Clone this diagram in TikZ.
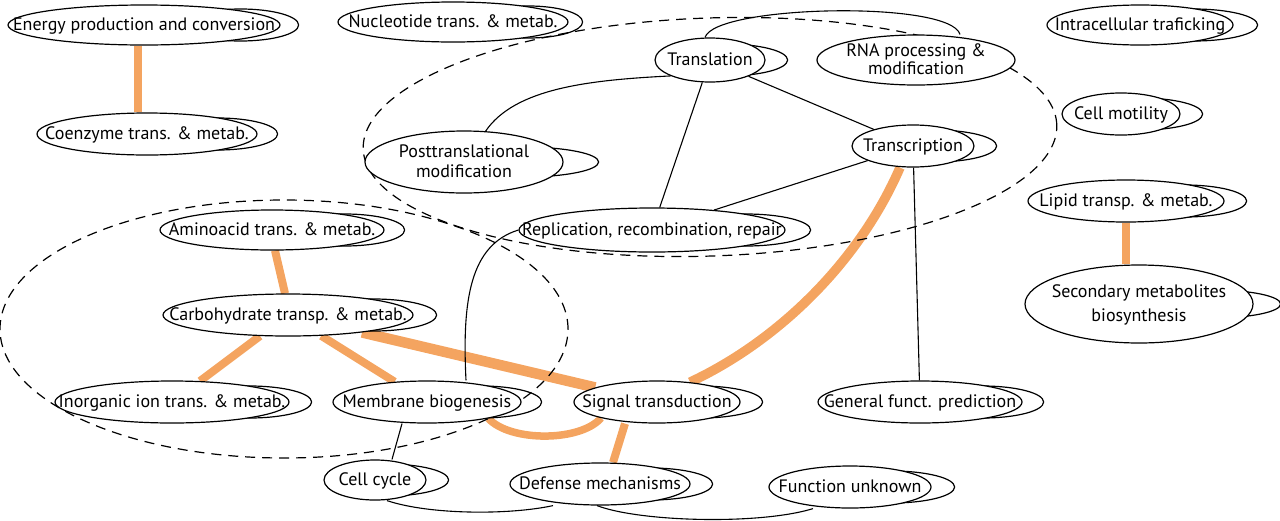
\documentclass[tikz,border=0pt]{standalone}
\usepackage{fontspec}
\setmainfont{PT Sans}
\usetikzlibrary{shapes.geometric}
\pgfdeclarelayer{bg}
\pgfsetlayers{bg,main}
\definecolor{orng}{RGB}{244,164,96}
\newcommand{\one}[1]{\makebox[0pt]{\raisebox{-5pt}[0pt][0pt]{\makebox[0pt]{#1}}}}
\newcommand{\two}[3]{\makebox[0pt]{\raisebox{\dimexpr#3-5pt\relax}[0pt][0pt]{\makebox[0pt]{#1}}\raisebox{\dimexpr-#3-5pt\relax}[0pt][0pt]{\makebox[0pt]{#2}}}}
\tikzset{
  nd/.style={draw, ellipse, fill=white, line width=1.2pt, inner sep=0pt, font=\fontsize{18}{21}\selectfont},
  lnk/.style={line width=1.1pt},
  org/.style={draw=orng, line width=8pt},
  dsh/.style={dash pattern=on 10pt off 7pt, line width=1.2pt},
  lp/.style={line width=1.2pt},
}
\begin{document}
\begin{tikzpicture}[x=1pt, y=-1pt]
\useasboundingbox (0,0) rectangle (1280,520);
% nodes
\node[nd, minimum width=272pt, minimum height=40pt] (energy) at (144,25) {\one{Energy production and conversion}};
\node[nd, minimum width=230pt, minimum height=40pt] (nucl) at (453,22) {\one{Nucleotide trans. \& metab.}};
\node[nd, minimum width=110pt, minimum height=44pt] (transl) at (710,60) {\one{Translation}};
\node[nd, minimum width=198pt, minimum height=50pt] (rna) at (916,60) {\two{RNA processing \&}{modification}{9pt}};
\node[nd, minimum width=186pt, minimum height=40pt] (intra) at (1140,25) {\one{Intracellular traficking}};
\node[nd, minimum width=118pt, minimum height=42pt] (motil) at (1121,114) {\one{Cell motility}};
\node[nd, minimum width=220pt, minimum height=42pt] (coenz) at (147,134) {\one{Coenzyme trans. \& metab.}};
\node[nd, minimum width=198pt, minimum height=62pt] (post) at (464,162) {\two{Posttranslational}{modification}{10pt}};
\node[nd, minimum width=122pt, minimum height=42pt] (transc) at (913,146) {\one{Transcription}};
\node[nd, minimum width=196pt, minimum height=42pt] (lipid) at (1126,201) {\one{Lipid transp. \& metab.}};
\node[nd, minimum width=224pt, minimum height=40pt] (amino) at (272,230) {\one{Aminoacid trans. \& metab.}};
\node[nd, minimum width=266pt, minimum height=44pt] (repl) at (652,230) {\one{Replication, recombination, repair}};
\node[nd, minimum width=250pt, minimum height=42pt] (carb) at (288,315) {\one{Carbohydrate transp. \& metab.}};
\node[nd, minimum width=228pt, minimum height=78pt] (second) at (1139,304) {\two{Secondary metabolites}{biosynthesis}{12pt}};
\node[nd, minimum width=234pt, minimum height=42pt] (inorg) at (172,402) {\one{Inorganic ion trans. \& metab.}};
\node[nd, minimum width=188pt, minimum height=42pt] (memb) at (427,402) {\one{Membrane biogenesis}};
\node[nd, minimum width=166pt, minimum height=42pt] (signal) at (657,402) {\one{Signal transduction}};
\node[nd, minimum width=204pt, minimum height=42pt] (general) at (920,402) {\one{General funct. prediction}};
\node[nd, minimum width=102pt, minimum height=40pt] (cellc) at (375,480) {\one{Cell cycle}};
\node[nd, minimum width=180pt, minimum height=42pt] (def) at (600,484) {\one{Defense mechanisms}};
\node[nd, minimum width=162pt, minimum height=42pt] (fu) at (850,487) {\one{Function unknown}};
\begin{pgfonlayer}{bg}
% orange links
\draw[org] ([xshift=-6.5pt]energy.south) -- ([xshift=-9.5pt]coenz.north);
\draw[org] (lipid.south) -- ([xshift=-13pt]second.north);
\draw[org] ([xshift=3pt]amino.south) -- ([xshift=-3pt]carb.north);
\draw[org] (carb) -- (inorg);
\draw[org] (carb) -- (memb);
\draw[org, line width=10.5pt] (carb) -- (signal);
\draw[org] ([xshift=-32pt]signal.south) -- ([xshift=13pt]def.north);
\draw[org, line width=7.5pt] (memb.-15) .. controls (510,442) and (580,442) .. (signal.196);
\draw[org, line width=9.5pt] ([xshift=-13pt]transc.south) .. controls (860,260) and (780,340) .. (signal.31);
% black links
\draw[lnk] (post.55) .. controls (515,88) and (590,80) .. (transl.202);
\draw[lnk] ([xshift=-5pt]transl.north) .. controls (715,5) and (950,0) .. ([xshift=44pt]rna.north);
\draw[lnk] (transl) -- (transc);
\draw[lnk] (transl) -- (repl);
\draw[lnk] (transc) -- (repl);
\draw[lnk] (transc) -- (general);
\draw[lnk] (repl.west) .. controls (470,245) and (462,300) .. ([xshift=39pt]memb.north);
\draw[lnk] ([xshift=-25pt]memb.south) -- ([xshift=17pt]cellc.north);
\draw[lnk] ([xshift=12pt]cellc.south) .. controls (430,515) and (510,515) .. ([xshift=-47pt]def.south);
\draw[lnk] ([xshift=-3pt]def.south) .. controls (640,522) and (760,525) .. ([xshift=-37pt]fu.south);
% dashed groups
\draw[dsh, rotate around={2:(710,137)}] (710,137) ellipse [x radius=347pt, y radius=119pt];
\draw[dsh] (284,329) ellipse [x radius=284pt, y radius=129pt];
% self loops
\foreach \n/\r/\h in {energy/58pt/16pt, nucl/54pt/16pt, transl/62pt/16pt, intra/64pt/16pt, motil/62pt/16pt,
  coenz/60pt/16pt, post/75pt/15pt, transc/62pt/16pt, lipid/62pt/16pt, amino/60pt/16pt, repl/65pt/16pt,
  carb/63pt/16pt, second/67pt/14pt, inorg/62pt/16pt, memb/60pt/16pt, signal/62pt/16pt, general/61pt/16pt,
  cellc/62pt/16pt, def/62pt/16pt, fu/63pt/16pt}
  {\draw[lp] ([xshift=-40pt]\n.east) ellipse [x radius=\r, y radius=\h];}
\end{pgfonlayer}
\end{tikzpicture}
\end{document}
